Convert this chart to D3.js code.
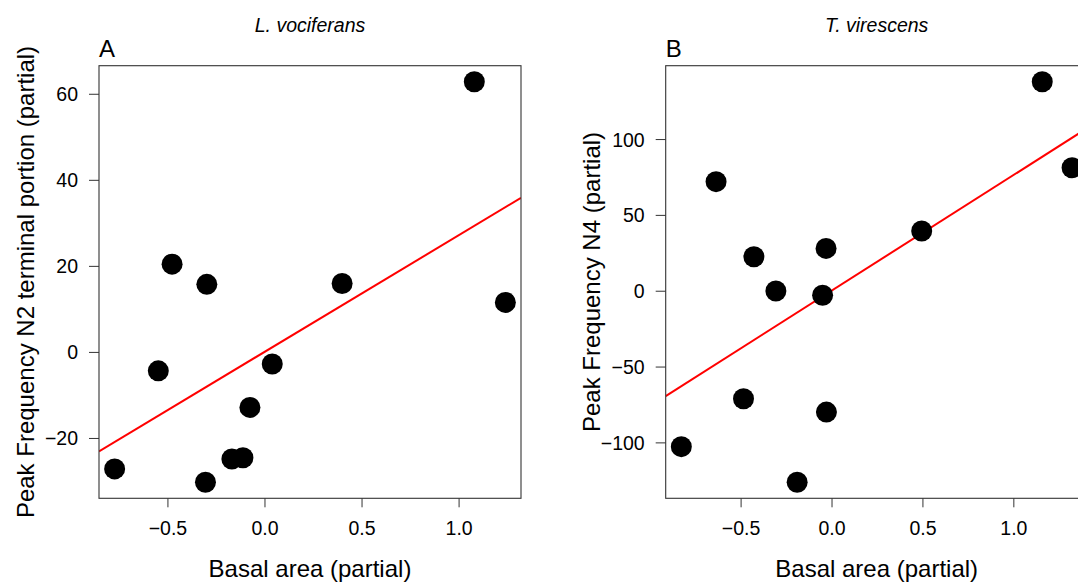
<!DOCTYPE html>
<html>
<head>
<meta charset="utf-8">
<script src="https://cdn.jsdelivr.net/npm/d3@7"></script>
<style>
  html, body { margin: 0; padding: 0; background: #fff; overflow: hidden; }
  svg { display: block; font-family: "Liberation Sans", Arial, Helvetica, sans-serif; }
</style>
</head>
<body>
<svg id="chart" width="1078" height="587"></svg>
<script>
// Panel A: L. vociferans
const aX = [-0.772, -0.547, -0.476, -0.297, -0.304, -0.168, -0.111, -0.075, 0.040, 0.400, 1.081, 1.241];
const aY = [-27.2, -4.4, 20.4, 15.7, -30.3, -24.9, -24.6, -12.9, -2.8, 15.9, 62.8, 11.5];
const aFit = { intercept: 0, slope: 27.1 };
const aXTicks = [-0.5, 0, 0.5, 1.0];
const aYTicks = [-20, 0, 20, 40, 60];

// Panel B: T. virescens
const bX = [-0.826, -0.635, -0.484, -0.427, -0.306, -0.189, -0.049, -0.030, -0.028, 0.496, 1.159, 1.323];
const bY = [-102.8, 71.9, -71.2, 22.4, -0.2, -126.3, -3.0, 27.9, -80.0, 39.4, 137.8, 81.1];
const bFit = { intercept: 0, slope: 76.2 };
const bXTicks = [-0.5, 0, 0.5, 1.0];
const bYTicks = [-100, -50, 0, 50, 100];

const svg = d3.select('#chart');

// R-style axis range: data extent padded by 4% on each side
function rRange(v){
  const [lo, hi] = d3.extent(v);
  const pad = (hi - lo) * 0.04;
  return [lo - pad, hi + pad];
}

function panel(opts){
  const { left, top, w, h, xs, ys, fit, xTicks, yTicks, title, letter, ylab, ylabX, clipId } = opts;
  const x = d3.scaleLinear().domain(rRange(xs)).range([left, left + w]);
  const y = d3.scaleLinear().domain(rRange(ys)).range([top + h, top]);
  const g = svg.append('g');

  g.append('clipPath').attr('id', clipId)
    .append('rect').attr('x', left).attr('y', top).attr('width', w).attr('height', h);

  // fitted line, clipped to the plot region like abline()
  const [x0, x1] = x.domain();
  g.append('line')
    .attr('clip-path', `url(#${clipId})`)
    .attr('x1', x(x0)).attr('y1', y(fit.intercept + fit.slope * x0))
    .attr('x2', x(x1)).attr('y2', y(fit.intercept + fit.slope * x1))
    .attr('stroke', '#ff0000').attr('stroke-width', 2);

  // points
  g.append('g').selectAll('circle')
    .data(xs.map((v, i) => [v, ys[i]]))
    .enter().append('circle')
    .attr('cx', d => x(d[0])).attr('cy', d => y(d[1]))
    .attr('r', 10.5).attr('fill', '#000');

  // box
  g.append('rect')
    .attr('x', left).attr('y', top).attr('width', w).attr('height', h)
    .attr('fill', 'none').attr('stroke', '#333').attr('stroke-width', 1.1);

  const fmtX = d3.format('.1f');
  const fmtY = d3.format('d');

  // x axis
  const xAxis = d3.axisBottom(x).tickValues(xTicks).tickSize(9).tickPadding(0).tickFormat(fmtX);
  const xg = g.append('g').attr('transform', `translate(0,${top + h})`).call(xAxis);
  xg.select('.domain').remove();
  xg.selectAll('.tick line').attr('stroke', '#333');
  xg.selectAll('.tick text')
    .attr('font-family', null).attr('font-size', 19.5).attr('fill', '#000')
    .attr('dy', null).attr('y', 37);

  // y axis
  const yAxis = d3.axisLeft(y).tickValues(yTicks).tickSize(10).tickPadding(11).tickFormat(fmtY);
  const yg = g.append('g').attr('transform', `translate(${left},0)`).call(yAxis);
  yg.select('.domain').remove();
  yg.selectAll('.tick line').attr('stroke', '#333');
  yg.selectAll('.tick text')
    .attr('font-family', null).attr('font-size', 19.5).attr('fill', '#000')
    .attr('dy', '0.36em');

  // texts
  g.append('text')
    .attr('x', left + w / 2).attr('y', 32)
    .attr('text-anchor', 'middle').attr('font-style', 'italic').attr('font-size', 19.5)
    .text(title);
  g.append('text')
    .attr('x', left).attr('y', 56.5)
    .attr('font-size', 24)
    .text(letter);
  g.append('text')
    .attr('x', left + w / 2).attr('y', 576.5)
    .attr('text-anchor', 'middle').attr('font-size', 24)
    .text('Basal area (partial)');
  g.append('text')
    .attr('transform', `translate(${ylabX},${top + h / 2}) rotate(-90)`)
    .attr('text-anchor', 'middle').attr('font-size', 24)
    .text(ylab);
}

panel({ left: 99, top: 65.7, w: 422, h: 432.6, xs: aX, ys: aY, fit: aFit,
  xTicks: aXTicks, yTicks: aYTicks, title: 'L. vociferans', letter: 'A',
  ylab: 'Peak Frequency N2 terminal portion (partial)', ylabX: 34, clipId: 'clipA' });

panel({ left: 665.7, top: 65.7, w: 422, h: 432.6, xs: bX, ys: bY, fit: bFit,
  xTicks: bXTicks, yTicks: bYTicks, title: 'T. virescens', letter: 'B',
  ylab: 'Peak Frequency N4 (partial)', ylabX: 600, clipId: 'clipB' });
</script>
</body>
</html>
